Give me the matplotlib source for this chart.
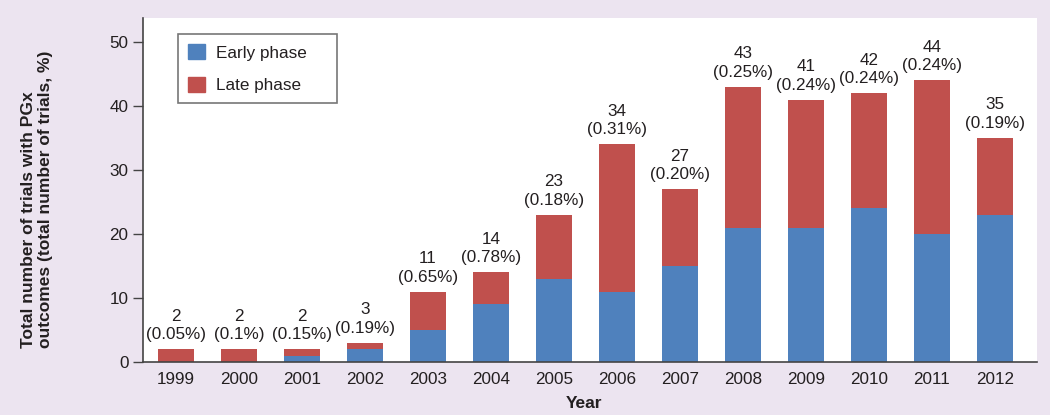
import numpy as np
import matplotlib
matplotlib.use("Agg")
import matplotlib.pyplot as plt
from matplotlib.patches import Patch

# Data
years = ["1999", "2000", "2001", "2002", "2003", "2004", "2005",
         "2006", "2007", "2008", "2009", "2010", "2011", "2012"]
early = [0, 0, 1, 2, 5, 9, 13, 11, 15, 21, 21, 24, 20, 23]
totals = [2, 2, 2, 3, 11, 14, 23, 34, 27, 43, 41, 42, 44, 35]
pct_labels = ["0.05%", "0.1%", "0.15%", "0.19%", "0.65%", "0.78%", "0.18%",
              "0.31%", "0.20%", "0.25%", "0.24%", "0.24%", "0.24%", "0.19%"]
late = [t - e for t, e in zip(totals, early)]

plt.rcParams["font.family"] = ["Liberation Sans", "DejaVu Sans"]
plt.rcParams["font.size"] = 12
text_col = "#231f20"
blue = "#4f81bd"
red = "#c0504d"

fig = plt.figure(figsize=(10.5, 4.15), dpi=100, facecolor="#ece4f0")
ax = fig.add_axes([143 / 1050, 53 / 415, 894 / 1050, 344 / 415])
ax.set_facecolor("white")

x = np.arange(len(years))
w = 0.57
ax.bar(x, early, w, color=blue, label="Early phase")
ax.bar(x, late, w, bottom=early, color=red, label="Late phase")

for xi, t, p in zip(x, totals, pct_labels):
    ax.annotate(f"{t}\n({p})", (xi, t), xytext=(0, 5), textcoords="offset points",
                ha="center", va="bottom", fontsize=12.3, color=text_col,
                linespacing=1.3)

ax.set_xlim(-0.52, 13.67)
ax.set_ylim(0, 53.75)
ax.set_yticks([0, 10, 20, 30, 40, 50])
ax.set_xticks(x)
ax.set_xticklabels(years)
ax.tick_params(axis="x", length=0, pad=7, labelsize=12.3, labelcolor=text_col)
ax.tick_params(axis="y", length=7, width=1, pad=3.5, labelsize=12.3,
               labelcolor=text_col, color="#444444")

for s in ["top", "right"]:
    ax.spines[s].set_visible(False)
for s in ["left", "bottom"]:
    ax.spines[s].set_color("#444444")
    ax.spines[s].set_linewidth(1.2)

handles = [Patch(color=blue), Patch(color=red)]
leg = ax.legend(handles, ["Early phase", "Late phase"], loc="upper left",
                bbox_to_anchor=(0.039, 0.753, 0.178, 0.2), mode="expand",
                borderaxespad=0, fancybox=False, fontsize=12.3,
                handlelength=1.0, handleheight=0.95, handletextpad=0.65,
                labelspacing=0.95, borderpad=0.6)
leg.get_frame().set_edgecolor("#555555")
leg.get_frame().set_linewidth(1.2)
for t in leg.get_texts():
    t.set_color(text_col)

fig.text(37 / 1050, 1 - 348 / 415,
         "Total number of trials with PGx\noutcomes (total number of trials, %)",
         rotation=90, ha="center", va="bottom", multialignment="left",
         fontsize=12.5, fontweight="bold", color=text_col, linespacing=1.2)
fig.text(584 / 1050, 1 - 403 / 415, "Year", ha="center", va="center",
         fontsize=12.5, fontweight="bold", color=text_col)

fig.savefig("out.png", dpi=100, facecolor=fig.get_facecolor())
